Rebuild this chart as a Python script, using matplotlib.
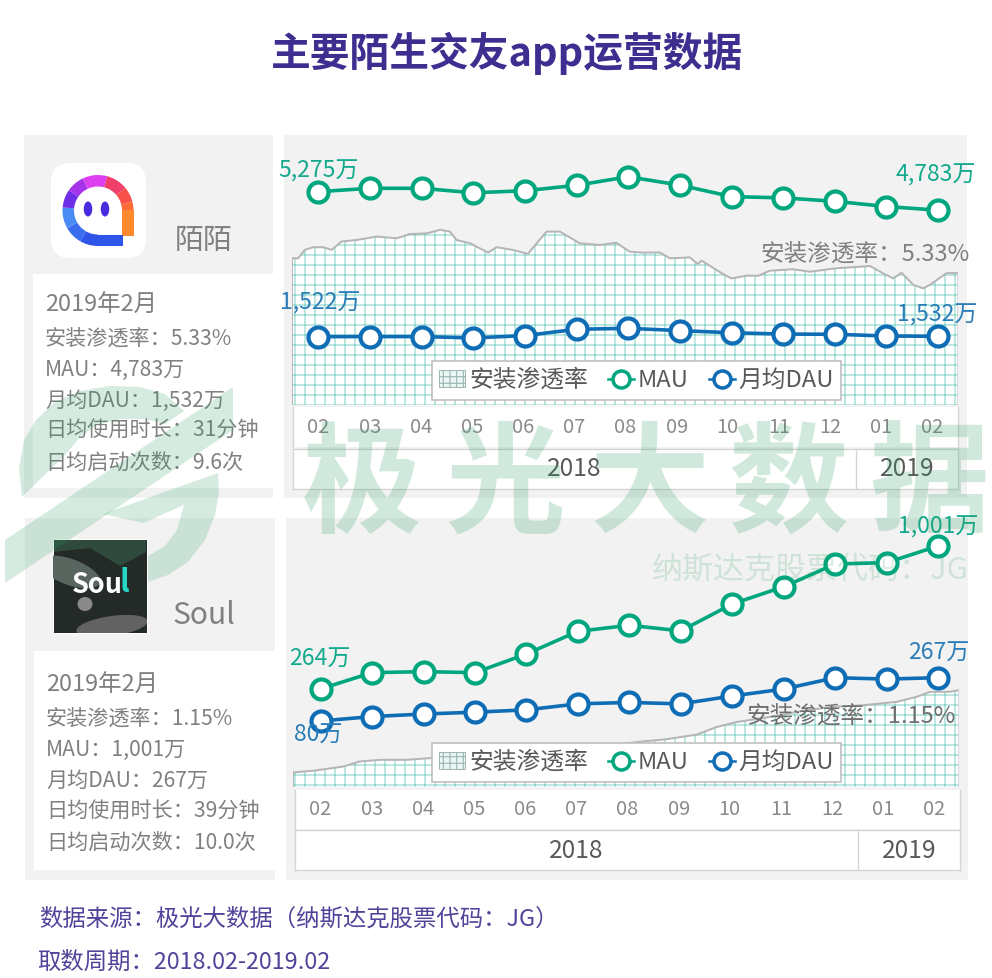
import matplotlib
matplotlib.use("Agg")
import matplotlib.pyplot as plt
from matplotlib.lines import Line2D
from matplotlib.patches import Patch, Polygon, Rectangle, FancyBboxPatch, Wedge, Ellipse

plt.rcParams["font.family"] = ["Noto Sans CJK SC", "DejaVu Sans"]
plt.rcParams["hatch.linewidth"] = 0.7

W, H, DPI = 992, 978, 120

# ── Data ──────────────────────────────────────────────────────────────────────
months = ["02", "03", "04", "05", "06", "07", "08", "09", "10", "11", "12", "01", "02"]
years = [("2018", 11), ("2019", 2)]

momo_mau = [5275, 5365, 5365, 5247, 5300, 5445, 5672, 5450, 5145, 5110, 5020, 4880, 4783]
momo_dau = [1522, 1525, 1525, 1490, 1550, 1715, 1740, 1680, 1625, 1590, 1585, 1540, 1532]
momo_rate_x = [-0.50, -0.39, -0.26, -0.10, 0.10, 0.26, 0.45, 0.74, 1.13, 1.52, 1.77, 2.10,
               2.36, 2.55, 2.68, 2.94, 3.29, 3.45, 3.77, 4.06, 4.23, 4.42, 4.68, 5.06,
               5.45, 5.77, 6.03, 6.29, 6.61, 6.81, 7.19, 7.35, 7.42, 7.81, 8.00, 8.29,
               8.52, 8.74, 9.19, 9.52, 10.03, 10.68, 10.93, 11.13, 11.29, 11.52, 11.71,
               11.84, 12.16, 12.39]
momo_rate = [5.92, 5.92, 6.26, 6.37, 6.37, 6.26, 6.60, 6.66, 6.80, 6.73, 6.90, 6.93,
             7.07, 7.00, 6.66, 6.53, 6.15, 6.37, 6.26, 6.10, 6.53, 7.00, 7.00, 6.53,
             6.46, 6.55, 6.19, 6.15, 6.16, 5.92, 5.96, 5.69, 5.83, 5.32, 5.11, 5.22,
             5.22, 5.42, 5.48, 5.38, 5.52, 5.61, 5.32, 5.11, 5.34, 4.85, 4.71,
             4.85, 5.32, 5.33]

soul_mau = [264, 348, 353, 348, 444, 561, 592, 563, 702, 791, 908, 915, 1001]
soul_dau = [80, 99, 110, 118, 128, 154, 160, 154, 188, 218, 267, 261, 267]
soul_rate_x = [-0.53, -0.14, 0.44, 0.76, 1.15, 1.67, 2.12, 3.50, 5.00, 6.00, 6.27, 6.65,
               7.31, 7.69, 8.08, 8.73, 9.25, 9.90, 10.54, 11.19, 11.58, 11.84, 12.23, 12.41]
soul_rate = [0.17, 0.19, 0.24, 0.30, 0.32, 0.32, 0.34, 0.40, 0.47, 0.52, 0.54, 0.56,
             0.62, 0.71, 0.77, 0.83, 0.89, 0.95, 0.97, 1.01, 1.07, 1.13, 1.13, 1.15]

momo_rows = ["2019年2月", "安装渗透率：5.33%", "MAU：4,783万", "月均DAU：1,532万",
             "日均使用时长：31分钟", "日均启动次数：9.6次"]
soul_rows = ["2019年2月", "安装渗透率：1.15%", "MAU：1,001万", "月均DAU：267万",
             "日均使用时长：39分钟", "日均启动次数：10.0次"]

# ── Colors ────────────────────────────────────────────────────────────────────
PURPLE = "#3f2d8f"
PANEL = "#f2f2f2"
GREEN = "#00a67d"
GREEN_TXT = "#12a98c"
BLUE = "#0f6db5"
BLUE_TXT = "#2a7db8"
GRAY = "#808080"
DARK = "#595959"
BORDER = "#d4d4d4"
HATCH = "#8fd6cb"
WM = "#2e9e63"


def pt(px):
    return px * 72 / DPI


def rect_ax(x0, y0, x1, y1, **kw):
    return fig.add_axes([x0 / W, 1 - y1 / H, (x1 - x0) / W, (y1 - y0) / H], **kw)


fig = plt.figure(figsize=(W / DPI, H / DPI), dpi=DPI, facecolor="white")

# ── Background canvas in pixels ───────────────────────────────────────────────
bg = rect_ax(0, 0, W, H, zorder=0)
bg.set_xlim(0, W)
bg.set_ylim(H, 0)
bg.axis("off")

for x0, y0, x1, y1 in [(24, 135, 273, 498), (284, 135, 967, 498),
                       (25, 518, 275, 880), (286, 518, 968, 880)]:
    bg.add_patch(Rectangle((x0, y0), x1 - x0, y1 - y0, fc=PANEL, ec="none"))
for x0, y0, x1, y1 in [(33, 274, 273, 488), (33.5, 651, 275, 870)]:
    bg.add_patch(Rectangle((x0, y0), x1 - x0, y1 - y0, fc="white", ec="none"))

bg.text(507, 53, "主要陌生交友app运营数据", ha="center", va="center",
        fontsize=pt(39.8), fontweight="bold", color=PURPLE)

bg.text(175, 241, "陌陌", ha="left", va="center", fontsize=pt(29), color=GRAY)
bg.text(173, 615, "Soul", ha="left", va="center", fontsize=pt(30), color=GRAY)

for ys, rows, x in [([305, 339, 370, 401, 431, 463], momo_rows, 45),
                    ([685, 719, 750, 781, 812, 843], soul_rows, 46)]:
    for i, (y, row) in enumerate(zip(ys, rows)):
        bg.text(x, y, row, ha="left", va="center", color=GRAY,
                fontsize=pt(23.5 if i == 0 else 21.1))

bg.text(39, 919, "数据来源：极光大数据（纳斯达克股票代码：JG）", ha="left", va="center",
        fontsize=pt(23.4), color=PURPLE, alpha=0.9)
bg.text(37, 962, "取数周期：2018.02-2019.02", ha="left", va="center",
        fontsize=pt(23.4), color=PURPLE, alpha=0.9)

# Momo logo
bg.add_patch(FancyBboxPatch((59, 171), 79, 79, boxstyle="round,pad=0,rounding_size=10",
                            mutation_aspect=1, fc="white", ec="white", lw=pt(16)))
for t0, t1, c in [(90, 120, "#2f55e8"), (120, 150, "#3a6cf0"), (150, 185, "#4a8cf5"),
                  (185, 215, "#6f2fe8"), (215, 245, "#a534ea"), (245, 285, "#dd3ff0"),
                  (285, 320, "#f0406a"), (320, 345, "#f8504a"), (345, 360, "#ff6a3a")]:
    bg.add_patch(Wedge((98, 210.5), 35.5, t0, t1, width=11.5, fc=c, ec="none"))
bg.add_patch(Rectangle((122, 210), 11.5, 26, fc="#ff8a2e", ec="none"))
bg.add_patch(Rectangle((98, 235), 25, 11, fc="#2f55e8", ec="none"))
bg.add_patch(Ellipse((88, 209), 8.5, 15, fc="#4a2be0", ec="none"))
bg.add_patch(Ellipse((105, 209), 8.5, 15, fc="#4a2be0", ec="none"))

# Soul logo
logo_box = Rectangle((53, 539), 93.5, 94, fc="#232a27", ec="white", lw=0.6)
bg.add_patch(logo_box)
for patch in [
    Polygon([(54, 540), (146, 540), (146, 552), (120, 566), (90, 548), (54, 552)], fc="#2f4a3c", ec="none"),
    Ellipse((70, 572), 64, 26, angle=20, fc="#59655f", ec="none"),
    Ellipse((112, 626), 72, 20, angle=-8, fc="#626262", ec="none"),
    Ellipse((85, 604), 15, 14, fc="#8a8a8a", ec="none"),
]:
    bg.add_patch(patch)
    patch.set_clip_path(logo_box)
bg.text(72, 585, "Sou", ha="left", va="center", fontsize=pt(27), fontweight="bold", color="white")
bg.text(119, 583, "l", ha="left", va="center", fontsize=pt(31), fontweight="bold", color="#28d6c4")

# White halo behind the Momo legend
bg.add_patch(Rectangle((418, 352), 428, 54, fc="white", ec="none"))


# ── Charts ────────────────────────────────────────────────────────────────────
def draw_chart(box, xlim, rate_x, rate, rate_lim, mau, mau_lim, dau, dau_lim,
               labels, rate_text, legend_box):
    x0, y0, x1, y1 = box
    ax_rate = rect_ax(x0, y0, x1, y1, zorder=1)
    ax_rate.fill_between(rate_x, rate, 0, facecolor="white", edgecolor=HATCH,
                         hatch="++", linewidth=0, zorder=1)
    ax_rate.plot(rate_x, rate, color="#b5b5b5", lw=pt(2), zorder=2)
    ax_rate.plot([rate_x[0], rate_x[0]], [0, rate[0]], color="#b5b5b5", lw=pt(2), zorder=2)
    ax_rate.plot([rate_x[-1], rate_x[-1]], [0, rate[-1]], color="#cccccc", lw=pt(1.5), zorder=2)
    ax_rate.set_xlim(xlim)
    ax_rate.set_ylim(rate_lim)
    ax_rate.axis("off")
    ax_rate.text((rate_text[0] - x0) / (x1 - x0), 1 - (rate_text[1] - y0) / (y1 - y0), rate_text[2],
                 transform=ax_rate.transAxes, ha="left", va="center", fontsize=pt(23.6),
                 color=rate_text[3], zorder=3)

    ax_mau = rect_ax(x0, y0, x1, y1, zorder=2)
    ax_dau = rect_ax(x0, y0, x1, y1, zorder=3)
    style = dict(lw=pt(3.6), marker="o", ms=pt(20), mfc="white", mew=pt(4.2), clip_on=False)
    ax_mau.plot(range(13), mau, color=GREEN, **style)
    ax_dau.plot(range(13), dau, color=BLUE, **style)
    for ax, lim in [(ax_mau, mau_lim), (ax_dau, dau_lim)]:
        ax.set_xlim(xlim)
        ax.set_ylim(lim)
        ax.axis("off")

    for ax, data, color, i, txt, dx, dy in labels:
        target = ax_mau if ax == "mau" else ax_dau
        target.annotate(txt, (i, data[i]), xytext=(pt(dx), pt(dy)), textcoords="offset points",
                        ha="center", va="center", fontsize=pt(23), color=color)

    handles = [Patch(facecolor="#e9f6f3", edgecolor="#9fb8b4", hatch="+++", lw=0.6),
               Line2D([], [], color=GREEN, lw=pt(2.5), marker="o", ms=pt(17), mfc="white", mew=pt(3.5)),
               Line2D([], [], color=BLUE, lw=pt(2.5), marker="o", ms=pt(17), mfc="white", mew=pt(3.5))]
    lx0, ly0, lx1, ly1 = legend_box
    leg = ax_dau.legend(handles, ["安装渗透率", "MAU", "月均DAU"], ncol=3, loc="center",
                        bbox_to_anchor=(((lx0 + lx1) / 2 - x0) / (x1 - x0),
                                        1 - ((ly0 + ly1) / 2 - y0) / (y1 - y0)),
                        borderaxespad=0, fontsize=pt(23.8), labelcolor=DARK, frameon=True,
                        fancybox=False, framealpha=1, facecolor="white", edgecolor="#bdbdbd",
                        handlelength=1.1, handletextpad=0.15, columnspacing=0.85,
                        borderpad=0.32)
    leg.get_frame().set_linewidth(pt(1.6))


def draw_ticks(x0, x1, y0, y1, y2, y3, year_y):
    ax_m = rect_ax(x0, y0, x1, y1, zorder=1)
    ax_m.set_xlim(-0.5, 12.5)
    ax_m.set_ylim(0, 1)
    ax_m.set_xticks([])
    ax_m.set_yticks([])
    ax_m.spines["top"].set_visible(False)
    ax_m.spines["bottom"].set_visible(False)
    for s in ax_m.spines.values():
        s.set_color(BORDER)
    for i, m in enumerate(months):
        ax_m.text(i, 0.49, m, ha="center", va="center", fontsize=pt(20), color="#8a8a8a")

    ax_y = rect_ax(x0, y2, x1, y3, zorder=1)
    ax_y.set_xlim(-0.5, 12.5)
    ax_y.set_ylim(0, 1)
    ax_y.set_xticks([])
    ax_y.set_yticks([])
    for s in ax_y.spines.values():
        s.set_color(BORDER)
    start = -0.5
    for name, n in years:
        ax_y.text(start + n / 2, year_y, name, ha="center", va="center", fontsize=pt(24.5), color=DARK)
        start += n
        if start < 12.5:
            ax_y.axvline(start, color=BORDER, lw=0.8)


draw_chart((292.4, 135, 958.3, 405), (-0.50, 12.39), momo_rate_x, momo_rate, (0, 10.9),
           momo_mau, (-399, 6783), momo_dau, (-254, 6766),
           [("mau", momo_mau, GREEN_TXT, 0, "5,275万", 0, 21),
            ("mau", momo_mau, GREEN_TXT, 12, "4,783万", -2, 35),
            ("dau", momo_dau, BLUE_TXT, 0, "1,522万", 2, 34),
            ("dau", momo_dau, BLUE_TXT, 12, "1,532万", -1, 21)],
           (760, 254, "安装渗透率：5.33%", GRAY), (433, 360, 840, 401))
draw_ticks(293, 958, 407, 447, 449, 489, 0.5)

draw_chart((293.3, 518, 959.3, 786.7), (-0.53, 12.41), soul_rate_x, soul_rate, (0, 3.2),
           soul_mau, (-240, 1145), soul_dau, (-204, 957),
           [("mau", soul_mau, GREEN_TXT, 0, "264万", -1, 30),
            ("mau", soul_mau, GREEN_TXT, 12, "1,001万", 0, 19),
            ("dau", soul_dau, BLUE_TXT, 0, "80万", -2, -14),
            ("dau", soul_dau, BLUE_TXT, 12, "267万", 1, 24)],
           (746, 716, "安装渗透率：1.15%", "#6e6e6e"), (433, 743, 840, 782))
draw_ticks(295, 960, 790, 829, 830, 870, 0.48)

# ── Watermark on top ──────────────────────────────────────────────────────────
top = rect_ax(0, 0, W, H, zorder=6)
top.set_xlim(0, W)
top.set_ylim(H, 0)
top.axis("off")
for ch, x in zip("极光大数据", [362, 505, 650, 788, 929]):
    top.text(x, 488, ch, ha="center", va="center", fontsize=pt(120), fontweight="bold",
             color=WM, alpha=0.22)
top.text(652, 570, "纳斯达克股票代码：JG", ha="left", va="center", fontsize=pt(31),
         color=WM, alpha=0.18)
for pts in [
    [(22, 497), (19, 468), (24, 440), (36, 420), (55, 402), (80, 391), (110, 386), (140, 387),
     (165, 394), (184, 411), (165, 424), (145, 419), (120, 419), (97, 425), (80, 437), (67, 453)],
    [(5, 540), (233, 387), (233, 430), (5, 583)],
    [(103, 514), (218, 473), (219, 492), (215, 515), (205, 540), (188, 562), (168, 575), (148, 582),
     (148, 556), (165, 546), (177, 530), (184, 505), (143, 523)],
]:
    top.add_patch(Polygon(pts, fc=WM, ec="none", alpha=0.2))

fig.savefig("out.png", dpi=DPI, facecolor="white")
